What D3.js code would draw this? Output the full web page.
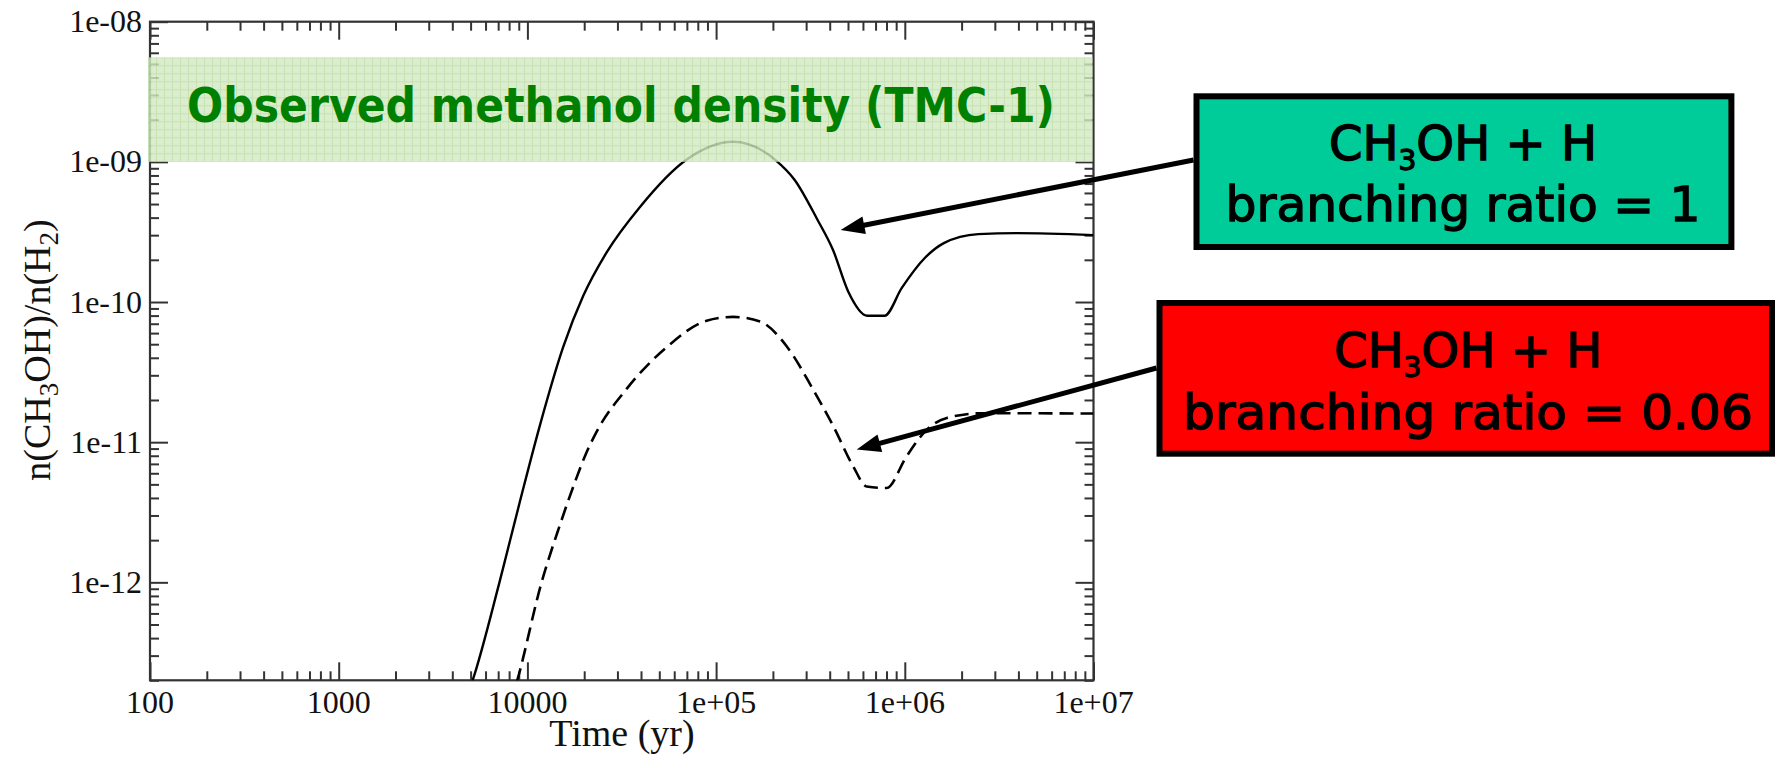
<!DOCTYPE html>
<html>
<head>
<meta charset="utf-8">
<script src="https://cdn.jsdelivr.net/npm/d3@7"></script>
<style>
  html, body { margin: 0; padding: 0; background: #ffffff; }
  svg { display: block; }
</style>
</head>
<body>
<svg id="chart" width="1782" height="757"></svg>
<script>
// ---------------- data ----------------
const xDomain = [100, 1e7];
const yDomain = [2e-13, 1e-8];
const xMajorTicks = [100, 1000, 10000, 1e5, 1e6, 1e7];
const xTickLabels = ["100", "1000", "10000", "1e+05", "1e+06", "1e+07"];
const yMajorTicks = [1e-8, 1e-9, 1e-10, 1e-11, 1e-12];
const yTickLabels = ["1e-08", "1e-09", "1e-10", "1e-11", "1e-12"];

// branching ratio = 1 (solid)
const timeSolid = [4680, 5140, 7110, 9140, 11670, 15500, 19770, 26300, 39500, 69900, 123000,
  206500, 260900, 345000, 416000, 501000, 633000, 781000, 964000, 1276000, 1610000, 2450000, 3910000, 1e7];
const valueSolid = [1.41e-13, 2.02e-13, 1.0e-12, 3.8e-12, 1.33e-11, 4.8e-11, 1.107e-10, 2.26e-10, 4.77e-10, 1.04e-9, 1.39e-9,
  1.03e-9, 7.43e-10, 3.85e-10, 2.36e-10, 1.19e-10, 7.98e-11, 7.98e-11, 1.26e-10, 2.06e-10, 2.63e-10, 3.05e-10, 3.1e-10, 3.0e-10];

// branching ratio = 0.06 (dashed)
const timeDashed = [8180, 8860, 11880, 14890, 17660, 20330, 23290, 33570, 54700, 89100, 123000,
  171000, 237000, 327000, 418000, 533000, 628000, 802000, 1020000, 1310000, 1670000, 2620000, 1e7];
const valueDashed = [1.4e-13, 2.02e-13, 9.96e-13, 2.58e-12, 4.98e-12, 8.14e-12, 1.19e-11, 2.40e-11, 4.76e-11, 7.36e-11, 7.83e-11,
  7.26e-11, 4.82e-11, 2.37e-11, 1.30e-11, 6.71e-12, 4.83e-12, 4.71e-12, 7.9e-12, 1.23e-11, 1.49e-11, 1.61e-11, 1.6e-11];

// observed band (TMC-1)
const observedRange = [1e-9, 5.57e-9];
const observedLabel = "Observed methanol density (TMC-1)";

// annotations: arrow tips in data space
const arrowTipTime = [457000, 556000];
const arrowTipValue = [3.27e-10, 8.85e-12];
const boxLine2 = ["branching ratio = 1", "branching ratio = 0.06"];
const boxColors = ["#00cc99", "#ff0000"];

// ---------------- layout ----------------
const margin = { left: 150, right: 1093.5, top: 21.7, bottom: 680.3 };
const svg = d3.select("#chart");

const x = d3.scaleLog().domain(xDomain).range([margin.left, margin.right]);
const y = d3.scaleLog().domain(yDomain).range([margin.bottom, margin.top]);

const axisColor = "#333";
const serif = "'Liberation Serif', 'Times New Roman', serif";
const comic = "'Comic Sans MS', 'DejaVu Sans', sans-serif";

const isDecade = v => Math.abs(Math.log10(v) - Math.round(Math.log10(v))) < 1e-6;
const xMinor = x.ticks().filter(v => !isDecade(v));
const yMinor = y.ticks().filter(v => !isDecade(v));

const axesG = svg.append("g");
function styleAxis(g) {
  g.select(".domain").remove();
  g.selectAll(".tick line").attr("stroke", axisColor).attr("stroke-width", 2);
  g.selectAll(".tick text").remove();
}
// bottom
axesG.append("g").attr("transform", `translate(0,${margin.bottom})`)
  .call(d3.axisBottom(x).tickValues(xMajorTicks).tickSize(-18).tickFormat("")).call(styleAxis);
axesG.append("g").attr("transform", `translate(0,${margin.bottom})`)
  .call(d3.axisBottom(x).tickValues(xMinor).tickSize(-9).tickFormat("")).call(styleAxis);
// top
axesG.append("g").attr("transform", `translate(0,${margin.top})`)
  .call(d3.axisTop(x).tickValues(xMajorTicks).tickSize(-18).tickFormat("")).call(styleAxis);
axesG.append("g").attr("transform", `translate(0,${margin.top})`)
  .call(d3.axisTop(x).tickValues(xMinor).tickSize(-9).tickFormat("")).call(styleAxis);
// left
axesG.append("g").attr("transform", `translate(${margin.left},0)`)
  .call(d3.axisLeft(y).tickValues(yMajorTicks).tickSize(-18).tickFormat("")).call(styleAxis);
axesG.append("g").attr("transform", `translate(${margin.left},0)`)
  .call(d3.axisLeft(y).tickValues(yMinor).tickSize(-9).tickFormat("")).call(styleAxis);
// right
axesG.append("g").attr("transform", `translate(${margin.right},0)`)
  .call(d3.axisRight(y).tickValues(yMajorTicks).tickSize(-18).tickFormat("")).call(styleAxis);
axesG.append("g").attr("transform", `translate(${margin.right},0)`)
  .call(d3.axisRight(y).tickValues(yMinor).tickSize(-9).tickFormat("")).call(styleAxis);

// frame
axesG.append("rect")
  .attr("x", margin.left).attr("y", margin.top)
  .attr("width", margin.right - margin.left).attr("height", margin.bottom - margin.top)
  .attr("fill", "none").attr("stroke", axisColor).attr("stroke-width", 2.2);

// tick labels
axesG.selectAll(".xlab").data(xMajorTicks).enter().append("text")
  .attr("x", d => x(d)).attr("y", 713)
  .attr("text-anchor", "middle").attr("font-family", serif).attr("font-size", 32).attr("fill", "#111")
  .text((d, i) => xTickLabels[i]);
axesG.selectAll(".ylab").data(yMajorTicks).enter().append("text")
  .attr("x", 142).attr("y", d => y(d) + 10.5)
  .attr("text-anchor", "end").attr("font-family", serif).attr("font-size", 32).attr("fill", "#111")
  .text((d, i) => yTickLabels[i]);

// axis titles
svg.append("text")
  .attr("x", 622).attr("y", 746)
  .attr("text-anchor", "middle").attr("font-family", serif).attr("font-size", 38).attr("fill", "#111")
  .text("Time (yr)");

const yTitle = svg.append("text")
  .attr("transform", "translate(50,350) rotate(-90)")
  .attr("text-anchor", "middle").attr("font-family", serif).attr("font-size", 38).attr("fill", "#111");
yTitle.append("tspan").text("n(CH");
yTitle.append("tspan").attr("dy", 8).attr("font-size", 27).text("3");
yTitle.append("tspan").attr("dy", -8).text("OH)/n(H");
yTitle.append("tspan").attr("dy", 8).attr("font-size", 27).text("2");
yTitle.append("tspan").attr("dy", -8).text(")");

// clip for curves
const defs = svg.append("defs");
defs.append("clipPath").attr("id", "plotClip")
  .append("rect").attr("x", margin.left).attr("y", margin.top)
  .attr("width", margin.right - margin.left).attr("height", margin.bottom - margin.top);

const line = d3.line().x(d => x(d[0])).y(d => y(d[1])).curve(d3.curveMonotoneX);
const curves = svg.append("g").attr("clip-path", "url(#plotClip)");
curves.append("path")
  .attr("d", line(d3.zip(timeSolid, valueSolid)))
  .attr("fill", "none").attr("stroke", "#000").attr("stroke-width", 2.4);
curves.append("path")
  .attr("d", line(d3.zip(timeDashed, valueDashed)))
  .attr("fill", "none").attr("stroke", "#000").attr("stroke-width", 2.6)
  .attr("stroke-dasharray", "14,7");

// observed band with grid pattern
const pat = defs.append("pattern").attr("id", "gridPat")
  .attr("patternUnits", "userSpaceOnUse").attr("width", 8).attr("height", 8)
  .attr("x", margin.left - 2).attr("y", y(observedRange[1]));
pat.append("rect").attr("width", 8).attr("height", 8).attr("fill", "#d2eac4");
pat.append("path").attr("d", "M0,0.5H8M0.5,0V8").attr("stroke", "#b9dc9f").attr("stroke-width", 1);

svg.append("rect")
  .attr("x", margin.left - 2).attr("y", y(observedRange[1]))
  .attr("width", margin.right - margin.left + 1)
  .attr("height", y(observedRange[0]) - y(observedRange[1]))
  .attr("fill", "url(#gridPat)").attr("opacity", 0.82);

svg.append("text")
  .attr("x", 621).attr("y", 121.5)
  .attr("text-anchor", "middle")
  .attr("font-family", comic).attr("font-weight", "bold").attr("font-size", 48)
  .attr("fill", "#008000")
  .attr("textLength", 868).attr("lengthAdjust", "spacingAndGlyphs")
  .text(observedLabel);

// annotation boxes + arrows
const boxes = [
  { x0: 1193.5, x1: 1734.4, y0: 93.3, y1: 250, cx: 1463, b1: 160, b2: 221, len2: 475, startY: 160 },
  { x0: 1156.5, x1: 1775, y0: 300, y1: 456.7, cx: 1468, b1: 366.7, b2: 429, len2: 570, startY: 368 }
];

boxes.forEach((b, i) => {
  const tx = x(arrowTipTime[i]), ty = y(arrowTipValue[i]);
  const sx = b.x0, sy = b.startY;
  const ang = Math.atan2(ty - sy, tx - sx);
  const headLen = 24, headW = 9;
  const bx = tx - headLen * Math.cos(ang), by = ty - headLen * Math.sin(ang);
  svg.append("line")
    .attr("x1", sx).attr("y1", sy).attr("x2", bx + 4 * Math.cos(ang)).attr("y2", by + 4 * Math.sin(ang))
    .attr("stroke", "#000").attr("stroke-width", 5);
  const px = -Math.sin(ang), py = Math.cos(ang);
  svg.append("path")
    .attr("d", `M${tx},${ty}L${bx + headW * px},${by + headW * py}L${bx - headW * px},${by - headW * py}Z`)
    .attr("fill", "#000");

  svg.append("rect")
    .attr("x", b.x0 + 3).attr("y", b.y0 + 3)
    .attr("width", b.x1 - b.x0 - 6).attr("height", b.y1 - b.y0 - 6)
    .attr("fill", boxColors[i]).attr("stroke", "#000").attr("stroke-width", 6);

  const t1 = svg.append("text")
    .attr("x", b.cx).attr("y", b.b1).attr("text-anchor", "middle")
    .attr("font-family", comic).attr("font-size", 48).attr("fill", "#000")
    .attr("stroke", "#000").attr("stroke-width", 1.3);
  t1.append("tspan").text("CH");
  t1.append("tspan").attr("dy", 10).attr("font-size", 28).text("3");
  t1.append("tspan").attr("dy", -10).text("OH + H");

  svg.append("text")
    .attr("x", b.cx).attr("y", b.b2).attr("text-anchor", "middle")
    .attr("font-family", comic).attr("font-size", 48).attr("fill", "#000")
    .attr("stroke", "#000").attr("stroke-width", 1.3)
    .attr("textLength", b.len2).attr("lengthAdjust", "spacingAndGlyphs")
    .text(boxLine2[i]);
});
</script>
</body>
</html>
